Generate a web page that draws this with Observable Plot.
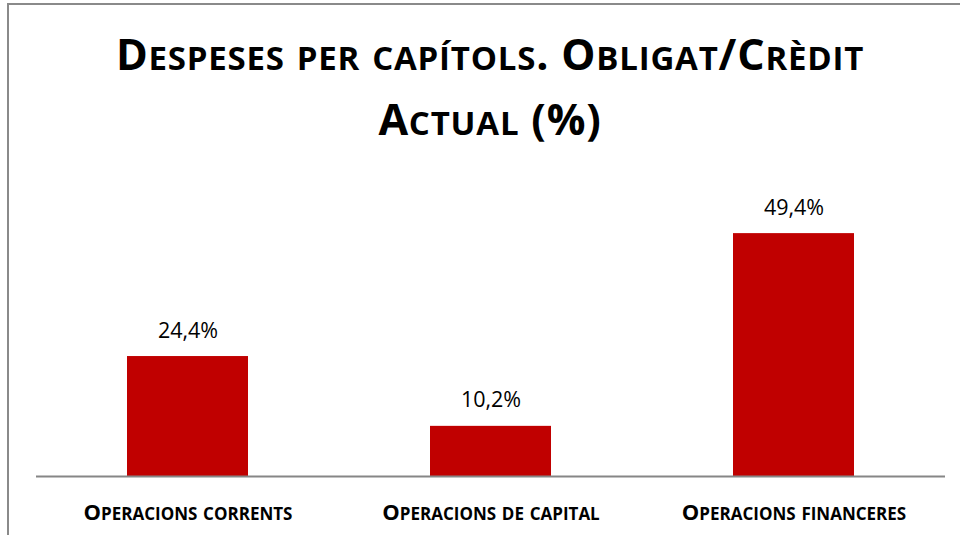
<!DOCTYPE html>
<html>
<head>
<meta charset="utf-8">
<script src="https://cdn.jsdelivr.net/npm/d3@7"></script>
<script src="https://cdn.jsdelivr.net/npm/@observablehq/plot@0.6"></script>
<style>
  html, body { margin: 0; padding: 0; background: #fff; }
  #wrap { position: relative; width: 960px; height: 535px; overflow: hidden; background: #fff; }
  #bt { position: absolute; left: 7px; top: 3px; width: 953px; height: 2px; background: #8a8a8a; }
  #bl { position: absolute; left: 7px; top: 3px; width: 2px; height: 532px; background: #8a8a8a; }
  #title {
    height: 170px; box-sizing: border-box; padding-top: 23px; padding-left: 20px;
    text-align: center; font-family: "Open Sans", sans-serif; font-weight: bold;
    font-size: 43px; line-height: 61px; color: #000; letter-spacing: 0.8px;
  }
  #title .sc { font-size: 33px; }
  #chart svg { display: block; }
</style>
</head>
<body>
<div id="wrap">
  <div id="bt"></div>
  <div id="bl"></div>
  <div id="title"></div>
  <div id="chart"></div>
</div>
<script>
const titleLines = ["Despeses per capítols. Obligat/Crèdit", "Actual (%)"];
const categories = ["Operacions corrents", "Operacions de capital", "Operacions financeres"];
const values = [24.4, 10.2, 49.4];
const yMax = 60;

// split a string into small-caps runs: [{text, small}]
function scRuns(s) {
  const runs = [];
  for (const ch of s) {
    const small = ch !== ch.toUpperCase();
    const t = ch.toUpperCase();
    if (runs.length && runs[runs.length - 1].small === small) runs[runs.length - 1].text += t;
    else runs.push({text: t, small});
  }
  return runs;
}

const titleEl = document.getElementById("title");
titleLines.forEach((line, i) => {
  if (i) titleEl.appendChild(document.createElement("br"));
  for (const r of scRuns(line)) {
    const span = document.createElement("span");
    if (r.small) span.className = "sc";
    span.textContent = r.text;
    titleEl.appendChild(span);
  }
});

const data = categories.map((c, i) => ({cat: c, value: values[i]}));
const fmt = v => v.toFixed(1).replace(".", ",") + "%";

const chart = Plot.plot({
  width: 960,
  height: 365,
  marginTop: 11,
  marginBottom: 59,
  marginLeft: 36,
  marginRight: 15,
  style: {background: "transparent", overflow: "visible"},
  x: {domain: categories, paddingInner: 0.6, paddingOuter: 0.3, axis: null},
  y: {domain: [0, yMax], axis: null},
  marks: [
    Plot.barY(data, {x: "cat", y: "value", fill: "#C00000"}),
    Plot.ruleY([0], {stroke: "#868686", strokeWidth: 2}),
    Plot.text(data, {x: "cat", y: "value", text: d => fmt(d.value), dy: -19, lineAnchor: "bottom",
      fontSize: 21.5, fontFamily: "'Open Sans', sans-serif", fill: "#000"}),
    Plot.text(data, {x: "cat", y: () => 0, text: "cat", dy: 43, lineAnchor: "bottom", className: "xlab",
      fontSize: 22, fontWeight: "bold", fontFamily: "'Open Sans', sans-serif", fill: "#000"})
  ]
});
document.getElementById("chart").appendChild(chart);

// render x labels as small caps (capital letters full size, others reduced)
d3.select(chart).selectAll(".xlab text").each(function() {
  const t = d3.select(this);
  const s = t.text();
  t.text(null);
  for (const r of scRuns(s)) {
    const ts = t.append("tspan").text(r.text);
    if (r.small) ts.attr("font-size", 17);
  }
});
</script>
</body>
</html>
